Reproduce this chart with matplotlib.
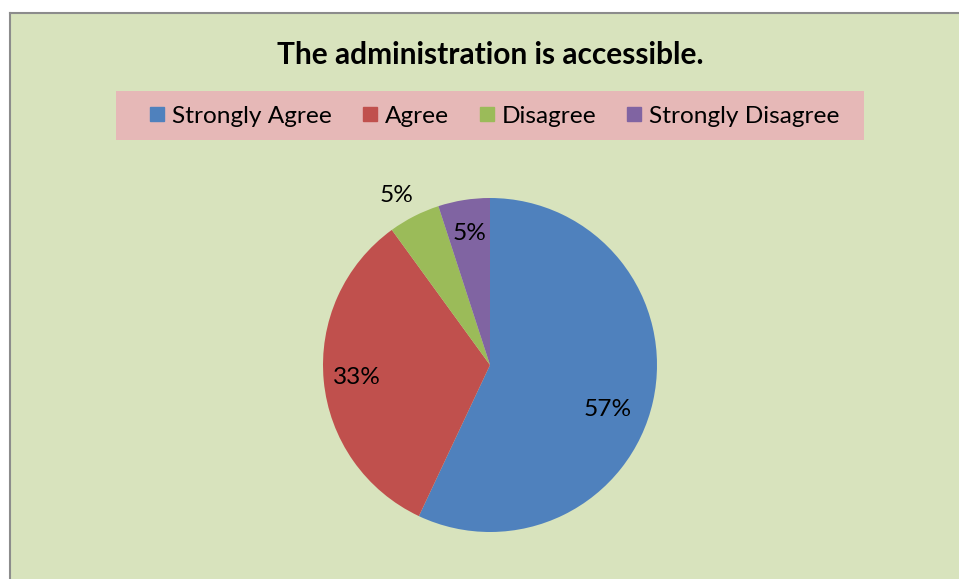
import matplotlib
matplotlib.use("Agg")
import matplotlib.pyplot as plt
from matplotlib.patches import Rectangle
from matplotlib.lines import Line2D
import numpy as np

# Survey responses
categories = ["Strongly Agree", "Agree", "Disagree", "Strongly Disagree"]
values = [57, 33, 5, 5]
labels = ["57%", "33%", "5%", "5%"]
title = "The administration is accessible."

colors = ["#4F81BD", "#C0504D", "#9BBB59", "#8064A2"]
bg = "#D8E3BD"
legend_bg = "#E6B8B7"
border = "#8C8C8C"

W, H = 959, 579
fig = plt.figure(figsize=(W / 100, H / 100), dpi=100)
fig.patch.set_facecolor("white")
plt.rcParams["font.family"] = ["Lato", "DejaVu Sans"]


def fx(x):
    return x / W


def fy(y):
    return 1 - y / H


# chart area (runs past the right and bottom edges)
fig.patches.append(Rectangle((fx(10), 0), 1 - fx(10), fy(13),
                             transform=fig.transFigure, facecolor=bg,
                             edgecolor="none", zorder=-2))
# top and left border lines
fig.lines.append(Line2D([fx(10), 1], [fy(13), fy(13)], transform=fig.transFigure,
                        color=border, linewidth=1.5, zorder=-1))
fig.lines.append(Line2D([fx(10), fx(10)], [0, fy(13)], transform=fig.transFigure,
                        color=border, linewidth=1.5, zorder=-1))
# legend band
fig.patches.append(Rectangle((fx(116), fy(140)), fx(864) - fx(116), fy(91) - fy(140),
                             transform=fig.transFigure, facecolor=legend_bg,
                             edgecolor="none", zorder=-1))

fig.text(fx(490), fy(55), title, ha="center", va="center",
         fontsize=21.5, fontweight="bold", color="black")

handles = [Line2D([], [], marker="s", linestyle="none", markersize=10,
                  markerfacecolor=c, markeredgecolor=c) for c in colors]
leg = fig.legend(handles, categories, loc="center", bbox_to_anchor=(fx(494), fy(116)),
                 ncol=4, frameon=False, fontsize=17.6, handletextpad=0.25,
                 columnspacing=1.2, handlelength=0.7)
leg.set_zorder(5)

# pie
cx, cy, r = 490, 365, 167
ax = fig.add_axes([fx(cx - r), fy(cy + r), 2 * r / W, 2 * r / H])
ax.set_zorder(3)
ax.patch.set_visible(False)
wedges, _ = ax.pie(values, colors=colors, startangle=90, counterclock=False,
                   radius=1, wedgeprops=dict(linewidth=0))
ax.set_xlim(-1, 1)
ax.set_ylim(-1, 1)
ax.set_aspect("equal")
ax.axis("off")

dist = [0.75, 0.80, 1.16, 0.80]
shift = [-8, 0, 2, 0]
for w, lab, d, s in zip(wedges, labels, dist, shift):
    ang = np.deg2rad((w.theta1 + w.theta2) / 2 + s)
    ax.text(d * np.cos(ang), d * np.sin(ang), lab, ha="center", va="center",
            fontsize=17.6, color="black", clip_on=False)

fig.savefig("out.png", dpi=100, facecolor=fig.get_facecolor())
